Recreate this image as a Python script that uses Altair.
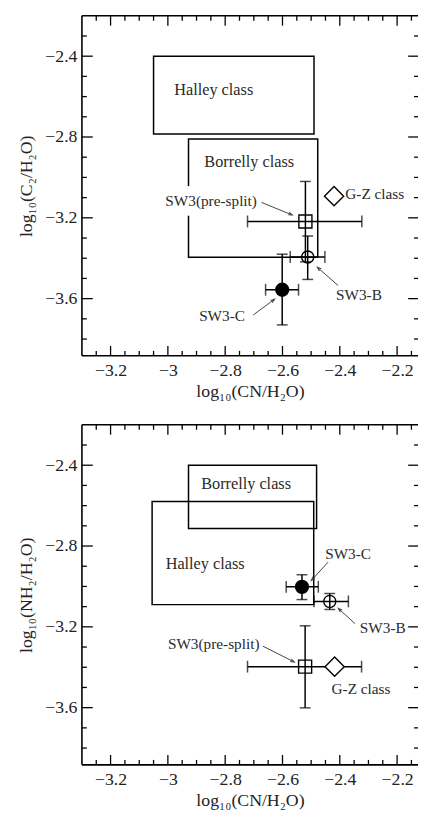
import math
import altair as alt
import pandas as pd

# ---------------- axes (shared) ----------------
X_DOMAIN = [-3.3, -2.127]
Y_DOMAIN = [-3.883, -2.2]
x_major = [-3.2, -3.0, -2.8, -2.6, -2.4, -2.2]
x_minor = [-3.25, -3.15, -3.1, -3.05, -2.95, -2.9, -2.85, -2.75, -2.7, -2.65,
           -2.55, -2.5, -2.45, -2.35, -2.3, -2.25, -2.15]
y_major = [-2.4, -2.8, -3.2, -3.6]
y_minor = [-2.3, -2.5, -2.6, -2.7, -2.9, -3.0, -3.1, -3.3, -3.4, -3.5, -3.7, -3.8]
x_title = "log\u2081\u2080(CN/H\u2082O)"

# ---------------- panel A: C2/H2O ----------------
a_ytitle = "log\u2081\u2080(C\u2082/H\u2082O)"
a_pt_name = ["SW3(pre-split)", "SW3-B", "SW3-C", "G-Z class"]
a_pt_kind = ["square", "circle", "filled", "diamond"]
a_pt_cn = [-2.52, -2.512, -2.601, -2.42]
a_pt_val = [-3.218, -3.394, -3.556, -3.093]
a_err_cn_lo = [-2.722, -2.573, -2.659]
a_err_cn_hi = [-2.323, -2.452, -2.544]
a_err_val_lo = [-3.418, -3.505, -3.73]
a_err_val_hi = [-3.02, -3.29, -3.38]
a_box_name = ["Halley class", "Borrelly class"]
a_box_x1 = [-3.05, -2.928]
a_box_x2 = [-2.49, -2.477]
a_box_y1 = [-2.785, -3.395]
a_box_y2 = [-2.4, -2.81]
a_lab_text = ["Halley class", "Borrelly class", "SW3(pre-split)", "SW3-B", "SW3-C", "G-Z class"]
a_lab_x = [-2.84, -2.716, -2.849, -2.333, -2.811, -2.278]
a_lab_y = [-2.567, -2.925, -3.117, -3.584, -3.688, -3.083]
a_arr_x1 = [-2.673, -2.406, -2.702]
a_arr_y1 = [-3.124, -3.535, -3.681]
a_arr_x2 = [-2.566, -2.478, -2.628]
a_arr_y2 = [-3.186, -3.445, -3.603]

# ---------------- panel B: NH2/H2O ----------------
b_ytitle = "log\u2081\u2080(NH\u2082/H\u2082O)"
b_pt_name = ["SW3(pre-split)", "SW3-B", "SW3-C", "G-Z class"]
b_pt_kind = ["square", "circle", "filled", "diamond"]
b_pt_cn = [-2.521, -2.435, -2.532, -2.418]
b_pt_val = [-3.397, -3.074, -3.002, -3.397]
b_err_cn_lo = [-2.722, -2.49, -2.587]
b_err_cn_hi = [-2.324, -2.37, -2.475]
b_err_val_lo = [-3.601, -3.114, -3.065]
b_err_val_hi = [-3.195, -3.035, -2.942]
b_box_name = ["Borrelly class", "Halley class"]
b_box_x1 = [-2.928, -3.055]
b_box_x2 = [-2.481, -2.491]
b_box_y1 = [-2.713, -3.09]
b_box_y2 = [-2.4, -2.58]
b_lab_text = ["Borrelly class", "Halley class", "SW3-C", "SW3-B", "SW3(pre-split)", "G-Z class"]
b_lab_x = [-2.727, -2.87, -2.371, -2.25, -2.84, -2.326]
b_lab_y = [-2.493, -2.888, -2.839, -3.208, -3.286, -3.507]
b_arr_x1 = [-2.441, -2.347, -2.668]
b_arr_y1 = [-2.88, -3.184, -3.296]
b_arr_x2 = [-2.499, -2.405, -2.559]
b_arr_y2 = [-2.97, -3.109, -3.374]

# ---------------- styling ----------------
W, H = 341, 345
XPX = W / (X_DOMAIN[1] - X_DOMAIN[0])
YPX = H / (Y_DOMAIN[1] - Y_DOMAIN[0])
FONT = "Liberation Serif"
SHAPE = {"square": "square", "circle": "circle", "filled": "circle", "diamond": "diamond"}
SIZE = {"square": 175, "circle": 150, "filled": 210, "diamond": 380}
ARROW_HEAD = "M-0.45,1.3L0,0L0.45,1.3"


def X(f):
    return alt.X(f, type="quantitative",
                 scale=alt.Scale(domain=X_DOMAIN, nice=False, zero=False),
                 axis=alt.Axis(values=x_major, format="~g"), title=x_title)


def Y(f, ytitle):
    return alt.Y(f, type="quantitative",
                 scale=alt.Scale(domain=Y_DOMAIN, nice=False, zero=False),
                 axis=alt.Axis(values=y_major, format=".1f"), title=ytitle)


def panel(ytitle, pt_name, pt_kind, pt_cn, pt_val, e_xlo, e_xhi, e_ylo, e_yhi,
          bx1, bx2, by1, by2, lab_text, lab_x, lab_y, ax1, ay1, ax2, ay2, halo):
    pts = pd.DataFrame({"name": pt_name, "kind": pt_kind, "x": pt_cn, "y": pt_val})
    pts["shape"] = pts["kind"].map(SHAPE)
    pts["sz"] = pts["kind"].map(SIZE)
    n = len(e_xlo)
    err = pd.DataFrame({"x": pt_cn[:n], "y": pt_val[:n], "xlo": e_xlo, "xhi": e_xhi,
                        "ylo": e_ylo, "yhi": e_yhi})
    capx = pd.DataFrame({"x": e_xlo + e_xhi, "y": pt_val[:n] * 2})
    capy = pd.DataFrame({"x": pt_cn[:n] * 2, "y": e_ylo + e_yhi})
    boxes = pd.DataFrame({"x1": bx1, "x2": bx2, "y1": by1, "y2": by2})
    labs = pd.DataFrame({"t": lab_text, "x": lab_x, "y": lab_y})
    labs["fs"] = [16.5 if "class" in t and not t.startswith("G") else 15.5 for t in lab_text]
    arr = pd.DataFrame({"x1": ax1, "y1": ay1, "x2": ax2, "y2": ay2})
    arr["ang"] = [
        (math.degrees(math.atan2((b - a) * XPX, (d - c) * YPX)) + 360) % 360
        for a, b, c, d in zip(ax1, ax2, ay1, ay2)
    ]
    tx_major = pd.DataFrame({"v": x_major})
    tx_minor = pd.DataFrame({"v": x_minor})
    ty_major = pd.DataFrame({"v": y_major})
    ty_minor = pd.DataFrame({"v": y_minor})
    one = pd.DataFrame({"k": [0]})

    layers = []
    # frame: left, top, bottom (right border lies outside the reference crop)
    layers.append(alt.Chart(one).mark_rule(color="black", strokeWidth=1.6)
                  .encode(x=alt.value(0), y=alt.value(0), y2=alt.value(H)))
    layers.append(alt.Chart(one).mark_rule(color="black", strokeWidth=1.6)
                  .encode(x=alt.value(0), x2=alt.value(W), y=alt.value(0)))
    layers.append(alt.Chart(one).mark_rule(color="black", strokeWidth=1.6)
                  .encode(x=alt.value(0), x2=alt.value(W), y=alt.value(H)))
    layers.append(alt.Chart(boxes).mark_rect(fillOpacity=0, stroke="black", strokeWidth=1.5)
                  .encode(x=X("x1"), x2="x2", y=Y("y1", ytitle), y2="y2"))
    halo_df = labs[labs["t"].isin(halo)]
    if len(halo_df):
        layers.append(alt.Chart(halo_df).mark_text(font=FONT, fontSize=15, color="white",
                                                   stroke="white", strokeWidth=20,
                                                   strokeJoin="round")
                      .encode(x=X("x"), y=Y("y", ytitle), text="t:N"))
    layers.append(alt.Chart(err).mark_rule(color="black", strokeWidth=1.5)
                  .encode(x=X("xlo"), x2="xhi", y=Y("y", ytitle)))
    layers.append(alt.Chart(err).mark_rule(color="black", strokeWidth=1.5)
                  .encode(x=X("x"), y=Y("ylo", ytitle), y2="yhi"))
    layers.append(alt.Chart(capx).mark_tick(orient="vertical", color="black",
                                            thickness=1.5, size=12)
                  .encode(x=X("x"), y=Y("y", ytitle)))
    layers.append(alt.Chart(capy).mark_tick(orient="horizontal", color="black",
                                            thickness=1.5, size=11)
                  .encode(x=X("x"), y=Y("y", ytitle)))
    layers.append(alt.Chart(pts).transform_filter("datum.kind == 'square' || datum.kind == 'circle'")
                  .mark_point(filled=False, color="black", strokeWidth=1.4, opacity=1)
                  .encode(x=X("x"), y=Y("y", ytitle),
                          shape=alt.Shape("shape:N", scale=None),
                          size=alt.Size("sz:Q", scale=None)))
    layers.append(alt.Chart(pts).transform_filter("datum.kind == 'diamond'")
                  .mark_point(filled=True, fill="white", stroke="black", strokeWidth=1.4,
                              opacity=1, fillOpacity=1)
                  .encode(x=X("x"), y=Y("y", ytitle),
                          shape=alt.Shape("shape:N", scale=None),
                          size=alt.Size("sz:Q", scale=None)))
    layers.append(alt.Chart(pts).transform_filter("datum.kind == 'filled'")
                  .mark_point(filled=True, color="black", opacity=1)
                  .encode(x=X("x"), y=Y("y", ytitle),
                          shape=alt.Shape("shape:N", scale=None),
                          size=alt.Size("sz:Q", scale=None)))
    layers.append(alt.Chart(arr).mark_rule(color="#444", strokeWidth=1)
                  .encode(x=X("x1"), x2="x2", y=Y("y1", ytitle), y2="y2"))
    layers.append(alt.Chart(arr).mark_point(shape=ARROW_HEAD, filled=False, color="#444",
                                            strokeWidth=1.1, size=36, opacity=1)
                  .encode(x=X("x2"), y=Y("y2", ytitle), angle=alt.Angle("ang:Q", scale=None)))
    layers.append(alt.Chart(labs).mark_text(font=FONT, color="#2a2a2a")
                  .encode(x=X("x"), y=Y("y", ytitle), text="t:N",
                          size=alt.Size("fs:Q", scale=None)))
    # inward ticks on all four sides
    for df, L in ((tx_major, 10), (tx_minor, 5)):
        layers.append(alt.Chart(df).mark_rule(color="black", strokeWidth=1.3)
                      .encode(x=X("v"), y=alt.value(H), y2=alt.value(H - L)))
        layers.append(alt.Chart(df).mark_rule(color="black", strokeWidth=1.3)
                      .encode(x=X("v"), y=alt.value(0), y2=alt.value(L)))
    for df, L in ((ty_major, 10), (ty_minor, 4)):
        layers.append(alt.Chart(df).mark_rule(color="black", strokeWidth=1.3)
                      .encode(y=Y("v", ytitle), x=alt.value(0), x2=alt.value(L + 1)))
        layers.append(alt.Chart(df).mark_rule(color="black", strokeWidth=1.3)
                      .encode(y=Y("v", ytitle), x=alt.value(W), x2=alt.value(W - L)))
    return alt.layer(*layers).properties(width=W, height=H)


pA = panel(a_ytitle, a_pt_name, a_pt_kind, a_pt_cn, a_pt_val, a_err_cn_lo, a_err_cn_hi,
           a_err_val_lo, a_err_val_hi, a_box_x1, a_box_x2, a_box_y1, a_box_y2,
           a_lab_text, a_lab_x, a_lab_y, a_arr_x1, a_arr_y1, a_arr_x2, a_arr_y2,
           ["SW3(pre-split)"])
pB = panel(b_ytitle, b_pt_name, b_pt_kind, b_pt_cn, b_pt_val, b_err_cn_lo, b_err_cn_hi,
           b_err_val_lo, b_err_val_hi, b_box_x1, b_box_x2, b_box_y1, b_box_y2,
           b_lab_text, b_lab_x, b_lab_y, b_arr_x1, b_arr_y1, b_arr_x2, b_arr_y2,
           [])

chart = (
    alt.vconcat(pA, pB, spacing=24)
    .properties(padding={"left": 10, "top": 1, "right": 0, "bottom": 0})
    .configure_view(stroke="transparent", strokeWidth=0)
    .configure_axis(grid=False, domain=False, ticks=False, tickSize=0,
                    labelFont=FONT, labelFontSize=18, labelColor="#222",
                    titleFont=FONT, titleFontSize=18, titleFontWeight="normal",
                    titleColor="#222")
    .configure_axisX(labelPadding=6, titlePadding=3)
    .configure_axisY(labelPadding=5, titlePadding=9)
)

chart.save("out.html", embed_options={"renderer": "svg", "actions": False})
